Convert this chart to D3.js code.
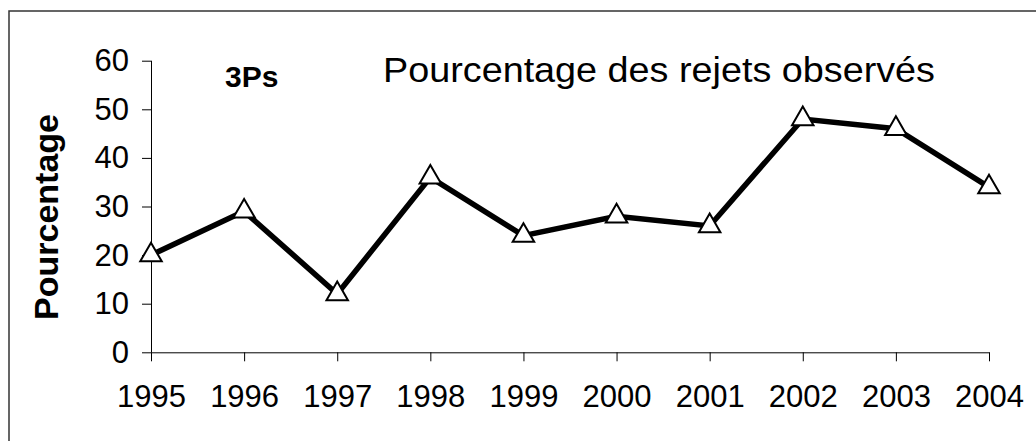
<!DOCTYPE html>
<html>
<head>
<meta charset="utf-8">
<script src="https://cdn.jsdelivr.net/npm/d3@7"></script>
<style>
  html, body { margin: 0; padding: 0; background: #fff; }
  svg text { font-family: "Liberation Sans", Arial, sans-serif; fill: #000; }
</style>
</head>
<body>
<div id="chart"></div>
<script>
// data
var years  = ['1995','1996','1997','1998','1999','2000','2001','2002','2003','2004'];
var values = [20, 29, 12, 36, 24, 28, 26, 48, 46, 34];
var yTicks = [0, 10, 20, 30, 40, 50, 60];

var W = 1036, H = 441;
var svg = d3.select('#chart').append('svg').attr('width', W).attr('height', H);

// outer frame (runs off the right/bottom edges like the source)
svg.append('rect').attr('x', 9).attr('y', 11).attr('width', W + 20).attr('height', H + 20)
    .attr('fill', 'none').attr('stroke', '#333').attr('stroke-width', 1.5);

var x = d3.scalePoint().domain(years).range([151, 989]);
var y = d3.scaleLinear().domain([0, 60]).range([352.3, 60.7]);

var yAxis = svg.append('g').attr('transform', 'translate(151,0)')
    .call(d3.axisLeft(y).tickValues(yTicks).tickSize(9).tickPadding(13).tickFormat(d3.format('d')));
var xAxis = svg.append('g').attr('transform', 'translate(0,352.3)')
    .call(d3.axisBottom(x).tickSize(9).tickPadding(24));
[yAxis, xAxis].forEach(function(a){
    a.select('.domain').attr('stroke', '#000').attr('stroke-width', 1);
    a.selectAll('.tick line').attr('stroke', '#000').attr('stroke-width', 1);
    a.selectAll('.tick text').attr('font-size', '31px').attr('fill', '#000')
        .style('font-family', '"Liberation Sans", Arial, sans-serif');
});
// the x domain only spans the ticks; drop d3's outer tick stubs
xAxis.select('.domain').attr('d', 'M151,0.5H989.5');
yAxis.select('.domain').attr('d', 'M0.5,60.7V352.3');

var line = d3.line().x(function(d, i){ return x(years[i]); }).y(function(d){ return y(d); });
svg.append('path').datum(values).attr('d', line)
    .attr('fill', 'none').attr('stroke', '#000').attr('stroke-width', 5.5).attr('stroke-linejoin', 'miter');

var tri = d3.symbol().type(d3.symbolTriangle).size(200);
svg.selectAll('path.pt').data(values).join('path').attr('class', 'pt')
    .attr('transform', function(d, i){ return 'translate(' + x(years[i]) + ',' + y(d) + ')'; })
    .attr('d', tri).attr('fill', '#fff').attr('stroke', '#000').attr('stroke-width', 2);

svg.append('text').attr('x', 383).attr('y', 82).attr('font-size', '35px')
    .attr('textLength', 552).attr('lengthAdjust', 'spacingAndGlyphs')
    .text('Pourcentage des rejets observés');
svg.append('text').attr('x', 225).attr('y', 87).attr('font-size', '30px').attr('font-weight', 'bold')
    .text('3Ps');
svg.append('text').attr('transform', 'translate(58,217) rotate(-90)').attr('text-anchor', 'middle')
    .attr('font-size', '34px').attr('font-weight', 'bold').text('Pourcentage');
</script>
</body>
</html>
